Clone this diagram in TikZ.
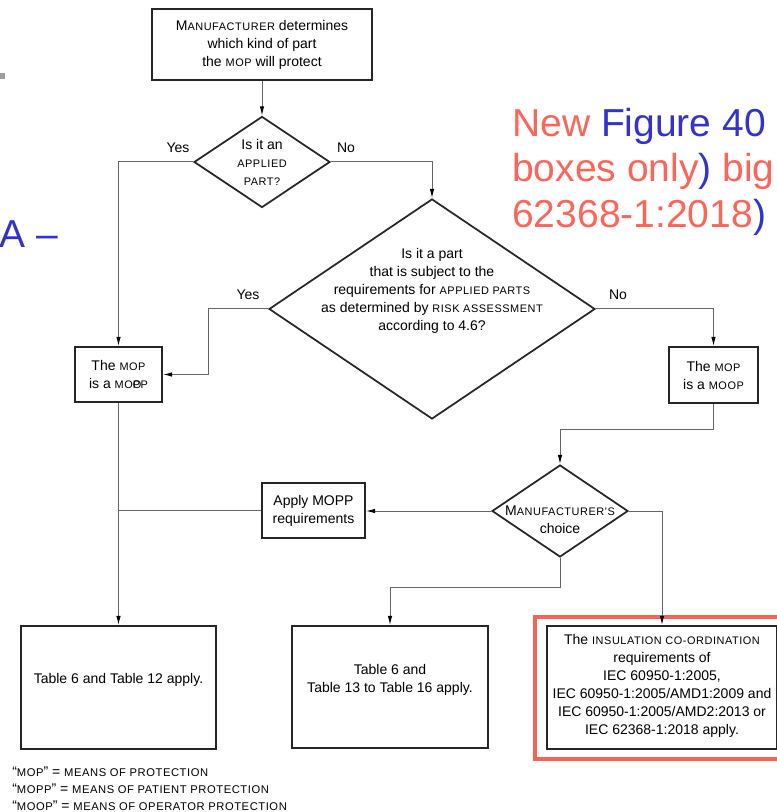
\documentclass[tikz,border=0pt]{standalone}
\usepackage{fontspec}
\setmainfont{Liberation Sans}
\newfontfamily\scfont[LetterSpace=5]{Liberation Sans}
\usetikzlibrary{shapes.geometric,arrows.meta}

% one drawing unit = one pixel of the page
\newcommand\pxl{0.75pt}
% imitation small capitals
\newcommand\smc[1]{{\fontsize{8.2pt}{9pt}\scfont #1}}
\newcommand\smcl[1]{{\fontsize{8.4pt}{9pt}\scfont #1}}

\definecolor{tred}{RGB}{250,102,90}
\definecolor{tblue}{RGB}{51,51,204}
\definecolor{frame}{RGB}{244,100,88}

\begin{document}
\begin{tikzpicture}[x=0.75pt,y=-0.75pt,
  every node/.style={font=\fontsize{10.5pt}{13.5pt}\selectfont, inner sep=0pt},
  stepbox/.style={draw=black!85, line width=1.3pt, rectangle, align=center},
  decision/.style={draw=black!85, line width=1.3pt, diamond},
  txt/.style={align=center},
  conn/.style={draw=black!60, line width=0.75pt},
  arr/.style={conn, -{Latex[length=7pt,width=3.4pt,color=black]}},
  title/.style={anchor=base west, font=\fontsize{29.25pt}{35pt}\selectfont},
  legend/.style={anchor=west}
]
\fill[white] (0,0) rectangle (776,812);
\useasboundingbox (0,0) rectangle (776,812);

% slide decorations
\fill[black!38] (0,73) rectangle (5,79);
\node[title, text=tblue] (tA) at (-1,248) {A –};
\node[title, text=tred] (t1) at (512,137) {New \textcolor{tblue}{Figure 40}};
\node[title, text=tred] (t2) at (512,182) {boxes only\textcolor{tblue}{)} big};
\node[title, text=tred] (t3) at (512,228) {62368-1:2018\textcolor{tblue}{)}};

% boxes
\node[stepbox, minimum width=220*\pxl, minimum height=71*\pxl] (start) at (262,44.5)
  {M\smc{ANUFACTURER} determines\\which kind of part\\the \smc{MOP} will protect};
\node[stepbox, minimum width=87*\pxl, minimum height=55*\pxl] (mopp) at (118.5,374.5)
  {The \smc{MOP}\\is a \smc{MO\rlap{O}PP}};
\node[stepbox, minimum width=89*\pxl, minimum height=56*\pxl] (moop) at (713.5,375)
  {The \smc{MOP}\\is a \smc{MOOP}};
\node[stepbox, minimum width=103*\pxl, minimum height=55*\pxl] (apply) at (313.5,510.5)
  {Apply MOPP\\requirements};
\node[stepbox, minimum width=195*\pxl, minimum height=123*\pxl] (b1) at (118.5,687.5) {};
\node[txt] (b1t) at (118.5,680) {Table 6 and Table 12 apply.};
\node[stepbox, minimum width=196*\pxl, minimum height=122*\pxl] (b2) at (390,687) {};
\node[txt] (b2t) at (390,680) {Table 6 and\\Table 13 to Table 16 apply.};
\node[stepbox, minimum width=230*\pxl, minimum height=123*\pxl] (b3) at (662,687.5) {};
\node[txt] (b3t) at (662,686)
  {The \smc{INSULATION CO-ORDINATION}\\requirements of\\IEC 60950-1:2005,\\
   IEC 60950-1:2005/AMD1:2009 and\\IEC 60950-1:2005/AMD2:2013 or\\IEC 62368-1:2018 apply.};
\draw[frame, line width=3pt] (535,617) rectangle (800,759);

% decisions
\node[decision, minimum width=136*\pxl, minimum height=91*\pxl] (d1) at (262,162) {};
\node[txt] (d1t) at (262,162.5) {Is it an\\\smc{APPLIED}\\\smc{PART?}};
\node[decision, minimum width=326*\pxl, minimum height=220*\pxl] (d2) at (432,309) {};
\node[txt] (d2t) at (432,291)
  {Is it a part\\that is subject to the\\requirements for \smc{APPLIED PARTS}\\
   as determined by \smc{RISK ASSESSMENT}\\according to 4.6?};
\node[decision, minimum width=136*\pxl, minimum height=92*\pxl] (d3) at (560,511) {};
\node[txt] (d3t) at (560,520) {M\smc{ANUFACTURER'S}\\choice};

% branch labels
\node (y1) at (178,148) {Yes};
\node (n1) at (346,148) {No};
\node (y2) at (248,295) {Yes};
\node (n2) at (618,295) {No};

% connectors
\draw[arr] (start.south) -- (d1.north);
\draw[arr] (d1.west) -| (mopp.north);
\draw[arr] (d1.east) -| (d2.north);
\draw[arr] (d2.west) -- ++(-60,0) |- (mopp.east);
\draw[arr] (d2.east) -| (moop.north);
\draw[arr] (moop.south) -- ++(0,26) -| (d3.north);
\draw[arr] (d3.west) -- (d3.west -| apply.east);
\draw[conn] (apply.west) -- (apply.west -| mopp.south);
\draw[arr] (mopp.south) -- (b1.north);
\draw[arr] (d3.south) -- ++(0,30) -| (b2.north);
\draw[arr] (d3.east) -| (b3.north);

% abbreviations
\node[legend] (l1) at (12,772) {“\smcl{MOP}” = \smcl{MEANS OF PROTECTION}};
\node[legend] (l2) at (12,789) {“\smcl{MOPP}” = \smcl{MEANS OF PATIENT PROTECTION}};
\node[legend] (l3) at (12,806) {“\smcl{MOOP}” = \smcl{MEANS OF OPERATOR PROTECTION}};
\end{tikzpicture}
\end{document}
